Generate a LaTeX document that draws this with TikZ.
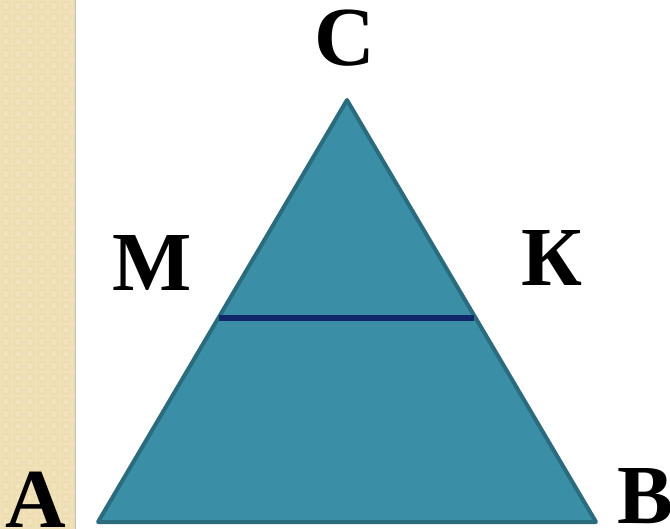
\documentclass[tikz,border=0pt]{standalone}
\usepackage{fontspec}
\setmainfont{Liberation Serif}
\definecolor{strip}{HTML}{F0DFB2}
\definecolor{stripdot}{HTML}{E6D39F}
\definecolor{striplite}{HTML}{F6E9C6}
\definecolor{trifill}{HTML}{3A8FA6}
\definecolor{triedge}{HTML}{2A6C7E}
\definecolor{midline}{HTML}{10286A}
\tikzset{
  lbl/.style={font=\fontsize{84}{84}\selectfont\bfseries, anchor=base, inner sep=0pt},
  tri/.style={fill=trifill, draw=triedge, line width=4pt, line join=round},
  mid/.style={draw=midline, line width=6pt}
}
\begin{document}
\begin{tikzpicture}[x=1pt,y=-1pt]
\useasboundingbox (0,0) rectangle (670,529);
\begin{scope}
\clip (0,0) rectangle (75,529);
\fill[strip] (0,0) rectangle (75,529);
\foreach \i in {0,...,6}{\foreach \j in {0,...,44}{
  \draw[stripdot, line width=1pt, rounded corners=2pt] (2+12*\i,2+12*\j) rectangle ++(8,8);
  \fill[striplite] (6+12*\i,6+12*\j) circle (1.6);
}}
\fill[strip!80!white, opacity=0.4] (0,0) rectangle (75,529);
\end{scope}
\draw[gray!50, line width=1pt] (75.5,0) -- (75.5,529);
\coordinate (Cv) at (347,100);
\coordinate (Av) at (98,522);
\coordinate (Bv) at (596,522);
\draw[tri] (Cv) -- (Av) -- (Bv) -- cycle;
\coordinate (Mv) at (219,318.5);
\coordinate (Kv) at (474,318.5);
\draw[mid] (Mv) -- (Kv);
\node[lbl] (C) at (345,66) {С};
\node[lbl] (M) at (152,291) {М};
\node[lbl] (K) at (552,286) {К};
\node[lbl] (A) at (36,527) {А};
\node[lbl] (B) at (646,523) {В};
\end{tikzpicture}
\end{document}
